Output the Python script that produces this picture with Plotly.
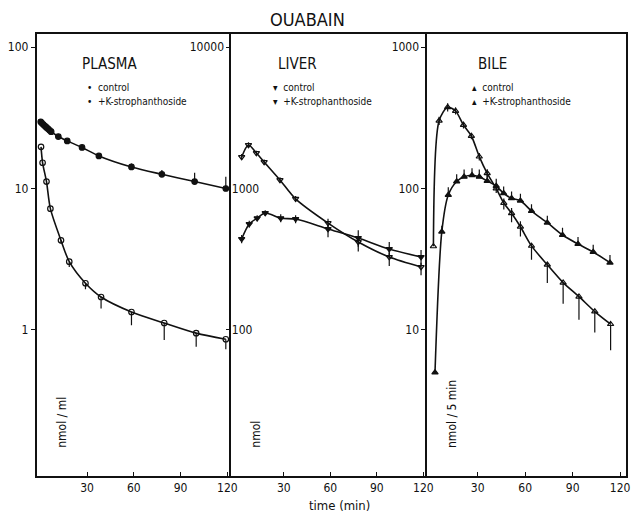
import plotly.graph_objects as go

# ---------------- data ----------------
# PLASMA (nmol/ml)
plasma_ctrl_t = [0.5, 1.5, 4, 6.5, 13.3, 18.6, 29, 39, 58.5, 79.5, 100, 119]
plasma_ctrl_v = [19.7, 15.2, 11.2, 7.2, 4.3, 3.04, 2.14, 1.71, 1.34, 1.12, 0.95, 0.86]
plasma_ctrl_em = [0, 0, 0, 0, 0.2, 0.25, 0.2, 0.29, 0.26, 0.27, 0.19, 0.13]

plasma_k_t = [0.3, 1, 2, 3, 4, 5, 6, 7, 11.6, 17.3, 26.8, 37.6, 58.5, 78, 99, 119]
plasma_k_v = [29.6, 29.0, 28.3, 27.6, 27.0, 26.4, 25.8, 25.2, 23.3, 21.7, 19.5, 17.0, 14.2, 12.6, 11.2, 10.0]
plasma_k_ep = [0, 0, 0, 0, 0, 0, 0, 0, 0.4, 0.4, 0.5, 0.6, 0.8, 0.9, 1.7, 2.1]

# LIVER (nmol)
liver_ctrl_t = [2.8, 7.2, 12.3, 17.3, 27.5, 37.6, 58.5, 78, 98, 118.5]
liver_ctrl_v = [1670, 2030, 1780, 1540, 1150, 845, 570, 419, 328, 279]
liver_ctrl_ep = [80, 90, 70, 60, 50, 40, 40, 30, 25, 20]
liver_ctrl_em = [80, 90, 70, 60, 50, 40, 60, 60, 45, 35]

liver_k_t = [2.8, 7.7, 12.8, 18, 28, 37.6, 58.5, 78, 98, 118.5]
liver_k_v = [440, 561, 617, 671, 617, 608, 518, 447, 373, 328]
liver_k_ep = [30, 30, 30, 30, 40, 40, 40, 60, 45, 40]
liver_k_em = [30, 30, 30, 30, 40, 40, 66, 60, 45, 40]

# BILE (nmol / 5 min)
bile_ctrl_t = [2, 5.6, 11, 16, 21, 26, 31, 36, 41.7, 46.5, 51.4, 57, 64, 74, 84, 94, 104, 114]
bile_ctrl_v = [39, 301, 375, 353, 281, 235, 168, 128, 100, 79, 66.8, 53.7, 39.3, 28.9, 21.6, 17.2, 13.5, 11.0]
bile_ctrl_ep = [0, 20, 25, 20, 15, 12, 10, 9, 7, 6, 6, 5, 0, 0, 0, 0, 0, 0]
bile_ctrl_em = [0, 20, 25, 20, 15, 12, 10, 9, 7, 8, 9, 8, 8, 7.4, 6.3, 5.4, 3.9, 3.8]

bile_k_t = [3, 7.3, 11.4, 16.7, 21.4, 26.4, 31, 36, 41.7, 46.4, 51.4, 57, 64, 74, 83.6, 93.4, 103, 113.6]
bile_k_v = [5.0, 49.5, 90, 112, 121, 124, 121, 113, 104, 92.5, 85.3, 82, 69.3, 57.3, 46.9, 40.5, 35.6, 29.9]
bile_k_ep = [0, 5, 12, 14, 15, 15, 15, 14, 13, 11, 10, 10, 8, 7, 6, 5, 4.5, 4]

x_ticks = [30, 60, 90, 120]

FONT = "Liberation Sans Narrow, DejaVu Sans Condensed, Arial Narrow, sans-serif"
BLACK = "#111111"

fig = go.Figure()


def add_series(t, v, xa, ya, symbol, ep=None, em=None):
    err = None
    if ep is not None or em is not None:
        err = dict(type="data", symmetric=False,
                   array=ep if ep is not None else [0] * len(t),
                   arrayminus=em if em is not None else [0] * len(t),
                   width=0, thickness=1.2, color=BLACK)
    fig.add_trace(go.Scatter(
        x=t, y=v, xaxis=xa, yaxis=ya, mode="lines+markers",
        line=dict(color=BLACK, width=1.6, shape="spline", smoothing=0.8),
        marker=dict(symbol=symbol, size=5.5, color=BLACK, line=dict(color=BLACK, width=1.2)),
        error_y=err, showlegend=False, cliponaxis=True))


add_series(plasma_ctrl_t, plasma_ctrl_v, "x", "y", "circle-open", None, plasma_ctrl_em)
add_series(plasma_k_t, plasma_k_v, "x", "y", "circle", plasma_k_ep, None)
add_series(liver_ctrl_t, liver_ctrl_v, "x2", "y2", "triangle-down-open", liver_ctrl_ep, liver_ctrl_em)
add_series(liver_k_t, liver_k_v, "x2", "y2", "triangle-down", liver_k_ep, liver_k_em)
add_series(bile_ctrl_t, bile_ctrl_v, "x3", "y3", "triangle-up-open", bile_ctrl_ep, bile_ctrl_em)
add_series(bile_k_t, bile_k_v, "x3", "y3", "triangle-up", bile_k_ep, None)
# empty trace so the overlaying liver axis (outer 10000 label) is drawn
fig.add_trace(go.Scatter(x=[None], y=[None], xaxis="x2", yaxis="y4", mode="markers",
                         showlegend=False, hoverinfo="skip"))

W, H = 636, 516
def px(x):
    return x / W
def py(y):
    return (H - y) / H

ydom = [py(476), py(34)]
tickfont = dict(family=FONT, size=12, color=BLACK)
common_x = dict(showgrid=False, zeroline=False, showline=True, linecolor=BLACK, linewidth=1.5,
                mirror=True, ticks="inside", ticklen=4, tickcolor=BLACK,
                tickvals=x_ticks, ticktext=[str(v) for v in x_ticks], tickfont=tickfont)
common_y = dict(type="log", showgrid=False, zeroline=False, showline=True, linecolor=BLACK,
                linewidth=1.5, ticks="outside", ticklen=4, tickcolor=BLACK, tickfont=tickfont,
                domain=ydom)

fig.update_layout(
    width=W, height=H, margin=dict(l=0, r=0, t=0, b=0),
    paper_bgcolor="white", plot_bgcolor="white",
    font=dict(family=FONT, color=BLACK),
    xaxis=dict(common_x, domain=[px(37), px(234)], range=[-2.35, 122.6], anchor="y"),
    yaxis=dict(common_y, range=[-1.032, 2.092], tickvals=[1, 10, 100], ticktext=["1", "10", "100"],
               anchor="x"),
    xaxis2=dict(common_x, domain=[px(234), px(432)], range=[-3.8, 122.5], anchor="y2"),
    yaxis2=dict(common_y, range=[0.968, 4.092], tickvals=[100, 1000], ticktext=["100", "1000"],
                ticklabelposition="inside", anchor="x2"),
    yaxis4=dict(common_y, range=[0.968, 4.092], tickvals=[10000], ticktext=["10000"],
                overlaying="y2", anchor="x2", side="left", showline=False),
    xaxis3=dict(common_x, domain=[px(432), px(633)], range=[-1.9, 123.75], anchor="y3"),
    yaxis3=dict(common_y, range=[-0.032, 3.092], tickvals=[10, 100, 1000],
                ticktext=["10", "100", "1000"], anchor="x3", mirror=True),
)

ann = []
def text(x, y, s, size, xanchor="left", angle=0, yanchor="middle"):
    ann.append(dict(x=px(x), y=py(y), xref="paper", yref="paper", text=s, showarrow=False,
                    xanchor=xanchor, yanchor=yanchor, textangle=angle,
                    font=dict(family=FONT, size=size, color=BLACK)))

text(311, 20, "OUABAIN", 18, xanchor="center")
# panel labels and legends
text(81, 64, "PLASMA", 15)
text(86, 88, "•  control", 10)
text(86, 101, "•  +K-strophanthoside", 10)
text(279, 64, "LIVER", 15)
text(274, 88, "▾  control", 10)
text(274, 101, "▾  +K-strophanthoside", 10)
text(481, 64, "BILE", 15)
text(475, 88, "▴  control", 10)
text(475, 101, "▴  +K-strophanthoside", 10)
# y-axis units
text(62, 450, "nmol / ml", 12, xanchor="center", angle=-90, yanchor="bottom")
text(258, 450, "nmol", 12, xanchor="center", angle=-90, yanchor="bottom")
text(457, 450, "nmol / 5 min", 12, xanchor="center", angle=-90, yanchor="bottom")
# x title
text(343, 505, "time (min)", 13, xanchor="center")

fig.update_layout(annotations=ann)

fig.write_html("out.html", config={"displayModeBar": False},
               post_script="document.body.style.margin='0';document.body.style.overflow='hidden';")
